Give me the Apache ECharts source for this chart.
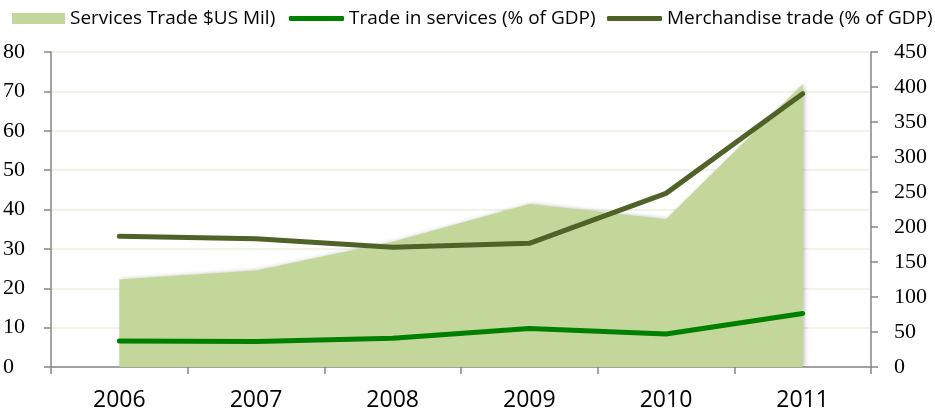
<!DOCTYPE html>
<html>
<head>
<meta charset="utf-8">
<script src="https://cdn.jsdelivr.net/npm/echarts@6/dist/echarts.min.js"></script>
<style>html,body{margin:0;padding:0;background:#fff}#c{width:935px;height:415px}</style>
</head>
<body>
<div id="c"></div>
<script>
const years = ['2006', '2007', '2008', '2009', '2010', '2011'];
const servicesTradeUSMil = [125, 138, 179, 233, 211, 404];
const tradeInServicesPct = [6.6, 6.5, 7.3, 9.8, 8.4, 13.6];
const merchandiseTradePct = [33.2, 32.6, 30.4, 31.4, 44.1, 69.4];
const leftTicks = [0, 80, 10];
const rightTicks = [0, 450, 50];

const chart = echarts.init(document.getElementById('c'), null, {renderer: 'canvas'});
const axisGray = '#868686';
const legendText = {fontFamily: 'Open Sans', fontSize: 19, color: '#000'};
chart.setOption({
  animation: false,
  backgroundColor: '#fff',
  grid: {left: 50, right: 64, top: 52, bottom: 48, containLabel: false},
  legend: [
    {left: 7, top: 4, itemWidth: 53, itemHeight: 11, icon: 'rect', textStyle: legendText,
     data: [{name: 'Services Trade $US Mil)', itemStyle: {color: '#C4D79B'}}]},
    {left: 284, top: 4, itemWidth: 55, itemHeight: 5, icon: 'roundRect', textStyle: legendText,
     data: [{name: 'Trade in services (% of GDP)', itemStyle: {color: '#008000'}}]},
    {left: 602, top: 4, itemWidth: 55, itemHeight: 5, icon: 'roundRect', textStyle: legendText,
     data: [{name: 'Merchandise trade (% of GDP)', itemStyle: {color: '#4F6228'}}]}
  ],
  xAxis: {
    type: 'category', data: years, boundaryGap: true,
    axisLine: {lineStyle: {color: axisGray, width: 1.5}},
    axisTick: {show: true, length: 7, lineStyle: {color: axisGray, width: 1.5}},
    axisLabel: {fontFamily: 'Open Sans', fontSize: 23, color: '#000', margin: 22}
  },
  yAxis: [
    {type: 'value', min: leftTicks[0], max: leftTicks[1], interval: leftTicks[2], position: 'left',
     axisLine: {show: true, lineStyle: {color: axisGray, width: 1.5}},
     axisTick: {show: true, length: 7, lineStyle: {color: axisGray, width: 1.5}},
     axisLabel: {fontFamily: 'Liberation Serif', fontSize: 22, color: '#000', align: 'left', margin: 48},
     splitLine: {show: true, lineStyle: {color: '#EBF0DC', width: 1.5}}},
    {type: 'value', min: rightTicks[0], max: rightTicks[1], interval: rightTicks[2], position: 'right',
     axisLine: {show: true, lineStyle: {color: axisGray, width: 1.5}},
     axisTick: {show: true, length: 7, lineStyle: {color: axisGray, width: 1.5}},
     axisLabel: {fontFamily: 'Liberation Serif', fontSize: 22, color: '#000', align: 'left', margin: 23},
     splitLine: {show: false}}
  ],
  series: [
    {name: 'Services Trade $US Mil)', type: 'line', yAxisIndex: 1, data: servicesTradeUSMil,
     showSymbol: false, symbol: 'none', lineStyle: {width: 0}, z: 1,
     areaStyle: {color: '#C4D79B', opacity: 1, shadowBlur: 4, shadowColor: 'rgba(0,0,0,0.25)', shadowOffsetX: 2}},
    {name: 'Merchandise trade (% of GDP)', type: 'line', yAxisIndex: 0, data: merchandiseTradePct,
     showSymbol: false, symbol: 'none', z: 3,
     lineStyle: {color: '#4F6228', width: 5, cap: 'round', join: 'round'}},
    {name: 'Trade in services (% of GDP)', type: 'line', yAxisIndex: 0, data: tradeInServicesPct,
     showSymbol: false, symbol: 'none', z: 4,
     lineStyle: {color: '#008000', width: 5, cap: 'round', join: 'round'}}
  ]
});
</script>
</body>
</html>
